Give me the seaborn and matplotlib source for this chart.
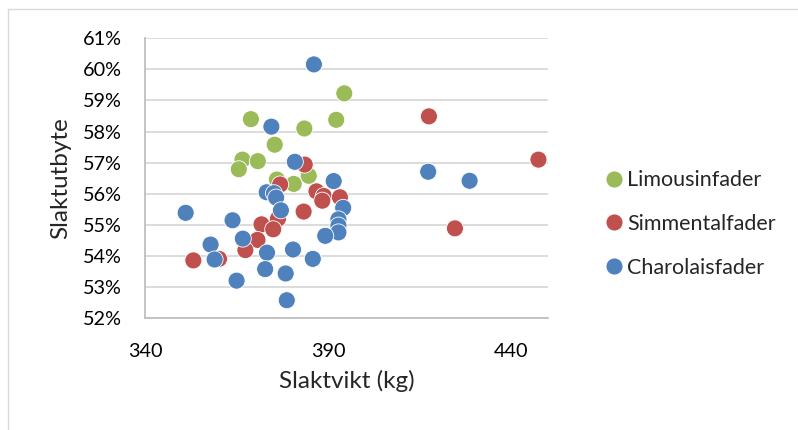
import pandas as pd
import seaborn as sns
import matplotlib.pyplot as plt
from matplotlib.lines import Line2D
from matplotlib.ticker import FuncFormatter

# Limousinfader
lim_vikt = [394.4, 368.9, 392.2, 383.5, 375.4, 366.6, 370.8, 365.6, 376.0, 384.7, 380.6]
lim_utbyte = [59.23, 58.40, 58.38, 58.10, 57.58, 57.10, 57.05, 56.79, 56.46, 56.58, 56.32]

# Simmentalfader
sim_vikt = [417.5, 447.4, 383.6, 376.9, 386.8, 388.8, 388.4, 393.2, 383.3, 376.3,
            371.8, 375.0, 370.7, 367.4, 424.6, 353.2, 360.2]
sim_utbyte = [58.49, 57.10, 56.94, 56.30, 56.08, 55.93, 55.78, 55.89, 55.43, 55.20,
              55.02, 54.86, 54.52, 54.19, 54.89, 53.86, 53.91]

# Charolaisfader
cha_vikt = [386.1, 374.5, 380.9, 391.5, 417.3, 428.6, 373.2, 375.2, 375.8, 377.1,
            394.1, 351.1, 363.9, 392.8, 392.8, 392.8, 389.2, 366.7, 357.9, 380.4,
            373.3, 359.0, 385.8, 372.8, 378.4, 365.0, 378.7]
cha_utbyte = [60.16, 58.16, 57.03, 56.41, 56.71, 56.42, 56.05, 56.02, 55.88, 55.47,
              55.55, 55.39, 55.15, 55.18, 54.98, 54.76, 54.65, 54.56, 54.37, 54.21,
              54.11, 53.89, 53.91, 53.58, 53.44, 53.21, 52.58]

grupper = ["Limousinfader", "Simmentalfader", "Charolaisfader"]
farger = ["#9BBB59", "#C0504D", "#4F81BD"]

df = pd.concat([
    pd.DataFrame({"vikt": lim_vikt, "utbyte": lim_utbyte, "fader": grupper[0]}),
    pd.DataFrame({"vikt": sim_vikt, "utbyte": sim_utbyte, "fader": grupper[1]}),
    pd.DataFrame({"vikt": cha_vikt, "utbyte": cha_utbyte, "fader": grupper[2]}),
])

sns.set_style("white")
plt.rcParams["font.family"] = ["Lato", "DejaVu Sans"]

fig = plt.figure(figsize=(7.98, 4.30), dpi=100)
ax = fig.add_axes([0.1817, 0.2598, 0.505, 0.6512])

sns.scatterplot(data=df, x="vikt", y="utbyte", hue="fader", hue_order=grupper,
                palette=dict(zip(grupper, farger)), s=150, edgecolor="white",
                linewidth=0.6, ax=ax, zorder=3)

ax.set_xlim(340, 450)
ax.set_ylim(52, 61)
ax.set_xticks([340, 390, 440])
ax.set_yticks(range(52, 62))
ax.yaxis.set_major_formatter(FuncFormatter(lambda v, p: f"{v:.0f}%"))
ax.grid(axis="y", color="#d9d9d9", linewidth=1.3)
ax.set_axisbelow(True)
for side in ["top", "right"]:
    ax.spines[side].set_visible(False)
for side in ["left", "bottom"]:
    ax.spines[side].set_color("#bfbfbf")
    ax.spines[side].set_linewidth(1.3)
ax.tick_params(axis="y", labelsize=14.3, pad=16.5, length=0, colors="#000000")
ax.tick_params(axis="x", labelsize=14.3, pad=17.5, length=0, colors="#000000")

ax.set_xlabel("Slaktvikt (kg)", fontsize=17.5)
ax.set_ylabel("Slaktutbyte", fontsize=17.5)
ax.xaxis.set_label_coords(0.5, -0.185)
ax.yaxis.set_label_coords(-0.183, 0.5)

handles, labels = ax.get_legend_handles_labels()
ax.legend(handles, labels, loc="center left", bbox_to_anchor=(0.729, 0.479),
          bbox_transform=fig.transFigure, frameon=False, fontsize=15.5,
          handletextpad=0.0, handlelength=1.2, labelspacing=1.1, markerscale=1.0)

# ram runt diagrammet
fig.add_artist(Line2D([0.0095, 1.0], [0.979, 0.979], transform=fig.transFigure,
                      color="#d9d9d9", linewidth=1))
fig.add_artist(Line2D([0.0095, 0.0095], [0.0, 0.979], transform=fig.transFigure,
                      color="#d9d9d9", linewidth=1))

fig.savefig("out.png", dpi=100)
